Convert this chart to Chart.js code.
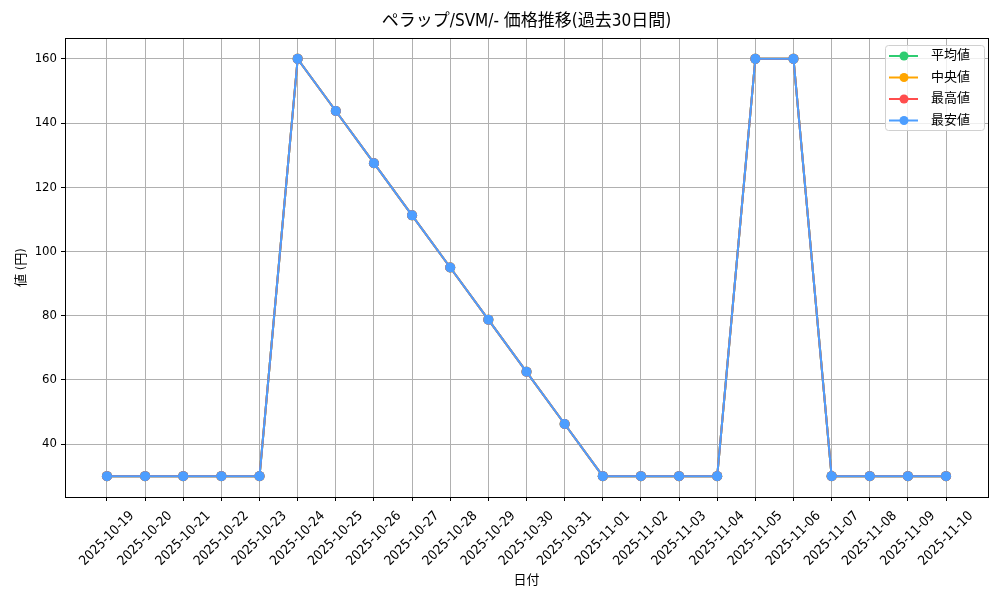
<!DOCTYPE html>
<html>
<head>
<meta charset="utf-8">
<script src="https://cdn.jsdelivr.net/npm/chart.js@4.4.0/dist/chart.umd.min.js"></script>
<style>
  html, body { margin: 0; padding: 0; background: #fff; }
  #wrap { width: 1000px; height: 600px; }
</style>
</head>
<body>
<div id="wrap"><canvas id="chart" width="1000" height="600"></canvas></div>
<script>
// データ
const dates = [
  '2025-10-19', '2025-10-20', '2025-10-21', '2025-10-22', '2025-10-23', '2025-10-24',
  '2025-10-25', '2025-10-26', '2025-10-27', '2025-10-28', '2025-10-29', '2025-10-30',
  '2025-10-31', '2025-11-01', '2025-11-02', '2025-11-03', '2025-11-04', '2025-11-05',
  '2025-11-06', '2025-11-07', '2025-11-08', '2025-11-09', '2025-11-10'
];
const avgPrices = [30, 30, 30, 30, 30, 160, 143.75, 127.5, 111.25, 95, 78.75, 62.5, 46.25, 30, 30, 30, 30, 160, 160, 30, 30, 30, 30];
const medianPrices = [30, 30, 30, 30, 30, 160, 143.75, 127.5, 111.25, 95, 78.75, 62.5, 46.25, 30, 30, 30, 30, 160, 160, 30, 30, 30, 30];
const maxPrices = [30, 30, 30, 30, 30, 160, 143.75, 127.5, 111.25, 95, 78.75, 62.5, 46.25, 30, 30, 30, 30, 160, 160, 30, 30, 30, 30];
const minPrices = [30, 30, 30, 30, 30, 160, 143.75, 127.5, 111.25, 95, 78.75, 62.5, 46.25, 30, 30, 30, 30, 160, 160, 30, 30, 30, 30];
const yTicks = [40, 60, 80, 100, 120, 140, 160];

const TITLE = 'ペラップ/SVM/- 価格推移(過去30日間)';
const FONT = "'DejaVu Sans Condensed', 'Noto Sans CJK JP', sans-serif";

const series = [
  { label: '平均値', values: avgPrices, color: '#2ecc71' },
  { label: '中央値', values: medianPrices, color: '#ffa500' },
  { label: '最高値', values: maxPrices, color: '#ff4d4d' },
  { label: '最安値', values: minPrices, color: '#4d9eff' }
];

// 枠線（上・右も含めて）、タイトル（プロット中央揃え）、凡例を描く
const framePlugin = {
  id: 'frame',
  afterDraw(chart) {
    const { ctx, chartArea: a } = chart;
    ctx.save();
    ctx.strokeStyle = '#000';
    ctx.lineWidth = 1;
    ctx.strokeRect(a.left + 0.5, a.top + 0.5, a.right - a.left, a.bottom - a.top);

    // タイトル
    ctx.fillStyle = '#000';
    ctx.font = '17px ' + FONT;
    ctx.textAlign = 'center';
    ctx.textBaseline = 'middle';
    ctx.fillText(TITLE, (a.left + a.right) / 2, 22);

    // 凡例（右上）
    const bx = a.right - 103, by = a.top + 7, bw = 99, bh = 85;
    ctx.fillStyle = 'rgba(255,255,255,0.8)';
    ctx.strokeStyle = '#d0d0d0';
    ctx.beginPath();
    ctx.roundRect(bx + 0.5, by + 0.5, bw, bh, 3);
    ctx.fill();
    ctx.stroke();
    ctx.font = '13px ' + FONT;
    ctx.textAlign = 'left';
    series.forEach((s, i) => {
      const y = by + 11 + i * 21.5;
      ctx.strokeStyle = s.color;
      ctx.lineWidth = 2;
      ctx.beginPath();
      ctx.moveTo(bx + 4, y);
      ctx.lineTo(bx + 33, y);
      ctx.stroke();
      ctx.fillStyle = s.color;
      ctx.beginPath();
      ctx.arc(bx + 19, y, 4.5, 0, Math.PI * 2);
      ctx.fill();
      ctx.fillStyle = '#000';
      ctx.fillText(s.label, bx + 46, y);
    });
    ctx.restore();
  }
};

new Chart(document.getElementById('chart'), {
  type: 'line',
  data: {
    datasets: series.map((s, i) => ({
      label: s.label,
      data: s.values.map((v, j) => ({ x: j, y: v })),
      borderColor: s.color,
      backgroundColor: s.color,
      borderWidth: 2,
      pointRadius: 5,
      pointHoverRadius: 5,
      pointBorderWidth: 0,
      tension: 0,
      fill: false,
      order: series.length - 1 - i
    }))
  },
  options: {
    responsive: false,
    animation: false,
    devicePixelRatio: 1,
    layout: { padding: { left: 14, right: 12, top: 38, bottom: 12 } },
    plugins: {
      legend: { display: false },
      tooltip: { enabled: false },
      title: { display: false }
    },
    scales: {
      x: {
        type: 'linear',
        min: -1.1,
        max: dates.length - 1 + 1.1,
        afterBuildTicks(scale) {
          scale.ticks = dates.map((d, i) => ({ value: i }));
        },
        afterFit(scale) { scale.height = 91; },
        ticks: {
          autoSkip: false,
          minRotation: 45,
          maxRotation: 45,
          color: '#000',
          font: { family: FONT, size: 13.5 },
          padding: 7,
          labelOffset: 25,
          callback: (v) => dates[v] ?? ''
        },
        grid: { color: '#b0b0b0', lineWidth: 1, tickColor: '#000', tickLength: 4 },
        border: { color: '#000' },
        title: {
          display: true,
          text: '日付',
          color: '#000',
          font: { family: FONT, size: 13 },
          padding: { top: 0, bottom: 0 }
        }
      },
      y: {
        min: 23.5,
        max: 166.5,
        afterBuildTicks(scale) {
          scale.ticks = yTicks.map(v => ({ value: v }));
        },
        afterFit(scale) { scale.width = 51; },
        ticks: {
          color: '#000',
          font: { family: FONT, size: 13 },
          padding: 4
        },
        grid: { color: '#b0b0b0', lineWidth: 1, tickColor: '#000', tickLength: 4 },
        border: { color: '#000' },
        title: {
          display: true,
          text: '値 (円)',
          color: '#000',
          font: { family: FONT, size: 13 },
          padding: { top: 0, bottom: 4 }
        }
      }
    }
  },
  plugins: [framePlugin]
});
</script>
</body>
</html>
